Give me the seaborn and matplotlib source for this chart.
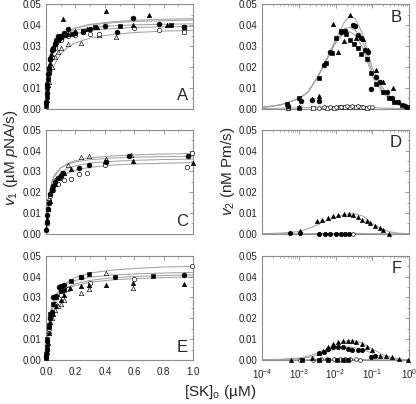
import numpy as np
import matplotlib
matplotlib.use('Agg')
import matplotlib.pyplot as plt
import seaborn as sns
from matplotlib.ticker import MultipleLocator, FormatStrFormatter, LogLocator

# ---------------------------------------------------------------- data
# left column: v1 vs [SK]o (linear), fitted curves on a common grid
lin_x = [0, 0.005, 0.01, 0.02, 0.04, 0.06, 0.1, 0.15, 0.2, 0.3, 0.45, 0.6, 0.8, 1.0]

A_curves = [
    [0, 0.0064, 0.0111, 0.0178, 0.0254, 0.0297, 0.0342, 0.0371, 0.0387, 0.0405, 0.0417, 0.0424, 0.0429, 0.0432],
    [0, 0.0073, 0.0124, 0.0193, 0.0268, 0.0307, 0.0348, 0.0373, 0.0387, 0.0402, 0.0412, 0.0418, 0.0422, 0.0425],
    [0, 0.0083, 0.0138, 0.0208, 0.0277, 0.0311, 0.0346, 0.0366, 0.0377, 0.0389, 0.0397, 0.0402, 0.0405, 0.0407],
    [0, 0.0068, 0.0116, 0.0180, 0.0249, 0.0286, 0.0324, 0.0347, 0.0360, 0.0374, 0.0384, 0.0389, 0.0393, 0.0395],
    [0, 0.0036, 0.0066, 0.0113, 0.0175, 0.0215, 0.0263, 0.0296, 0.0316, 0.0339, 0.0356, 0.0365, 0.0372, 0.0376],
]
C_curves = [
    [0, 0.0066, 0.0113, 0.0175, 0.0243, 0.0279, 0.0316, 0.0339, 0.0351, 0.0365, 0.0374, 0.0379, 0.0383, 0.0386],
    [0, 0.0076, 0.0127, 0.0190, 0.0253, 0.0285, 0.0317, 0.0335, 0.0345, 0.0356, 0.0364, 0.0368, 0.0371, 0.0372],
    [0, 0.0061, 0.0105, 0.0163, 0.0226, 0.0260, 0.0294, 0.0315, 0.0327, 0.0340, 0.0348, 0.0353, 0.0357, 0.0359],
    [0, 0.0050, 0.0088, 0.0141, 0.0201, 0.0235, 0.0271, 0.0293, 0.0306, 0.0320, 0.0330, 0.0335, 0.0339, 0.0342],
]
E_curves = [
    [0, 0.0058, 0.0103, 0.0169, 0.0248, 0.0294, 0.0344, 0.0377, 0.0396, 0.0417, 0.0431, 0.0439, 0.0446, 0.0449],
    [0, 0.0072, 0.0123, 0.0191, 0.0264, 0.0304, 0.0344, 0.0369, 0.0382, 0.0397, 0.0407, 0.0413, 0.0417, 0.0420],
    [0, 0.0060, 0.0105, 0.0168, 0.0240, 0.0280, 0.0323, 0.0350, 0.0365, 0.0382, 0.0394, 0.0400, 0.0405, 0.0408],
    [0, 0.0059, 0.0103, 0.0164, 0.0234, 0.0273, 0.0315, 0.0342, 0.0357, 0.0373, 0.0384, 0.0390, 0.0395, 0.0398],
]

# panel A points
A_fc_x = [0.002, 0.005, 0.01, 0.015, 0.02, 0.03, 0.04, 0.05, 0.06, 0.07, 0.08, 0.1, 0.12, 0.15, 0.2, 0.25, 0.3, 0.4, 0.48, 0.59, 0.77, 0.94]
A_fc_y = [0.0032, 0.0075, 0.012, 0.0165, 0.0195, 0.024, 0.028, 0.029, 0.031, 0.033, 0.035, 0.035, 0.0365, 0.038, 0.0365, 0.037, 0.038, 0.0395, 0.037, 0.0437, 0.0405, 0.039]
A_ft_x = [0.003, 0.008, 0.012, 0.018, 0.025, 0.035, 0.05, 0.07, 0.09, 0.118, 0.15, 0.2, 0.28, 0.35, 0.41, 0.59, 0.70, 0.82]
A_ft_y = [0.003, 0.0085, 0.0115, 0.0175, 0.022, 0.026, 0.029, 0.032, 0.034, 0.043, 0.036, 0.0375, 0.038, 0.039, 0.047, 0.040, 0.045, 0.040]
A_fs_x = [0.001, 0.004, 0.008, 0.012, 0.02, 0.03, 0.045, 0.06, 0.08, 0.1, 0.13, 0.18, 0.25, 0.33, 0.5, 0.85, 0.94]
A_fs_y = [0.0015, 0.0055, 0.010, 0.014, 0.019, 0.024, 0.0285, 0.031, 0.033, 0.0345, 0.0355, 0.036, 0.0375, 0.039, 0.0395, 0.040, 0.039]
A_oc_x = [0.01, 0.02, 0.04, 0.06, 0.1, 0.15, 0.2, 0.3, 0.36, 0.6, 0.77]
A_oc_y = [0.011, 0.017, 0.025, 0.029, 0.033, 0.035, 0.0355, 0.036, 0.036, 0.0386, 0.0377]
A_ot_x = [0.005, 0.01, 0.02, 0.04, 0.06, 0.08, 0.1, 0.15, 0.24, 0.36, 0.475]
A_ot_y = [0.004, 0.008, 0.013, 0.020, 0.025, 0.027, 0.029, 0.031, 0.0317, 0.0355, 0.0346]
A_os_x = [0.94]
A_os_y = [0.0368]

# panel C points
C_fc_x = [0.002, 0.005, 0.01, 0.015, 0.02, 0.03, 0.04, 0.05, 0.06, 0.08, 0.1, 0.114, 0.227, 0.29, 0.405, 0.566, 0.966]
C_fc_y = [0.002, 0.005, 0.009, 0.012, 0.015, 0.019, 0.021, 0.023, 0.025, 0.027, 0.028, 0.029, 0.0317, 0.033, 0.0347, 0.0376, 0.0373]
C_ft_x = [0.003, 0.008, 0.015, 0.025, 0.04, 0.06, 0.09, 0.12, 0.168, 0.4, 0.59, 1.0]
C_ft_y = [0.003, 0.007, 0.012, 0.016, 0.021, 0.024, 0.027, 0.029, 0.031, 0.035, 0.035, 0.0342]
C_ot_x = [0.02, 0.04, 0.06, 0.1, 0.15, 0.24, 0.29, 0.41, 0.577]
C_ot_y = [0.017, 0.023, 0.026, 0.029, 0.033, 0.037, 0.0372, 0.036, 0.038]
C_oc_x = [0.03, 0.05, 0.08, 0.12, 0.168, 0.227, 0.28, 0.4, 0.96, 0.99]
C_oc_y = [0.018, 0.021, 0.024, 0.026, 0.0265, 0.0289, 0.029, 0.033, 0.0322, 0.039]

# panel E points
E_fs_x = [0.001, 0.003, 0.006, 0.01, 0.02, 0.03, 0.05, 0.07, 0.1, 0.12, 0.17, 0.24, 0.295, 0.47, 0.73]
E_fs_y = [0.001, 0.003, 0.006, 0.010, 0.017, 0.022, 0.027, 0.030, 0.033, 0.0335, 0.038, 0.0397, 0.0411, 0.040, 0.0402]
E_fc_x = [0.002, 0.005, 0.01, 0.02, 0.03, 0.04, 0.05, 0.07, 0.09, 0.1, 0.12, 0.24, 0.94]
E_fc_y = [0.002, 0.005, 0.009, 0.016, 0.020, 0.023, 0.030, 0.0305, 0.035, 0.0357, 0.036, 0.0397, 0.0408]
E_ft_x = [0.002, 0.006, 0.012, 0.02, 0.03, 0.05, 0.07, 0.1, 0.12, 0.16, 0.24, 0.295, 0.41, 0.59, 0.94]
E_ft_y = [0.002, 0.004, 0.008, 0.013, 0.018, 0.022, 0.026, 0.029, 0.031, 0.0345, 0.0357, 0.0359, 0.0362, 0.0369, 0.0364]
E_ot_x = [0.01, 0.02, 0.04, 0.06, 0.08, 0.1, 0.12, 0.24, 0.295, 0.41, 0.59]
E_ot_y = [0.008, 0.014, 0.020, 0.024, 0.026, 0.027, 0.029, 0.032, 0.034, 0.0415, 0.0345]
E_oc_x = [0.02, 0.04, 0.06, 0.1, 0.15, 0.3, 0.6, 0.99]
E_oc_y = [0.015, 0.022, 0.027, 0.031, 0.034, 0.037, 0.039, 0.0452]

# right column: v2 vs [SK]o (log), fitted curves on a common grid
log_x = [1e-4, 3.2e-4, 1e-3, 1.8e-3, 3.2e-3, 5.6e-3, 1e-2, 1.8e-2, 2.5e-2, 3.5e-2, 5.6e-2, 1e-1, 1.8e-1, 3.2e-1, 5.6e-1, 1.0]

B_curves = [
    [0.0006, 0.0018, 0.0048, 0.008, 0.0150, 0.0235, 0.0330, 0.0420, 0.0445, 0.0430, 0.0355, 0.0195, 0.0105, 0.0055, 0.0022, 0.0008],
    [0.0006, 0.0018, 0.0048, 0.008, 0.0148, 0.0232, 0.0320, 0.0385, 0.0390, 0.0375, 0.0320, 0.0175, 0.0093, 0.0048, 0.0019, 0.0007],
    [0.0006, 0.0018, 0.0048, 0.008, 0.0147, 0.0230, 0.0315, 0.0368, 0.0368, 0.0350, 0.0290, 0.0155, 0.0080, 0.0040, 0.0016, 0.0006],
    [0.0001, 0.0002, 0.0004, 0.0005, 0.0007, 0.0009, 0.0011, 0.0012, 0.0012, 0.0011, 0.0009, 0.0006, 0.0003, 0.0002, 0.0001, 0.0],
]
D_curves = [
    [0.0001, 0.0004, 0.0011, 0.0025, 0.0044, 0.0063, 0.0080, 0.0093, 0.0097, 0.0096, 0.0085, 0.0050, 0.0024, 0.0009, 0.0003, 0.0001],
    [0, 0, 0.0001, 0.0001, 0.0002, 0.0002, 0.0003, 0.0003, 0.0003, 0.0003, 0.0002, 0.0001, 0.0001, 0, 0, 0],
]
F_curves = [
    [0.0001, 0.0003, 0.0009, 0.0018, 0.0033, 0.0052, 0.0072, 0.0089, 0.0093, 0.0091, 0.0080, 0.0053, 0.0028, 0.0012, 0.0004, 0.0001],
    [0.0001, 0.0002, 0.0006, 0.0012, 0.0023, 0.0038, 0.0053, 0.0062, 0.0062, 0.0058, 0.0050, 0.0032, 0.0016, 0.0007, 0.0002, 0.0001],
    [0, 0, 0.0001, 0.0001, 0.0002, 0.0002, 0.0003, 0.0003, 0.0003, 0.0003, 0.0002, 0.0001, 0.0001, 0, 0, 0],
]

# panel B points
B_fs_x = [4.8e-4, 1e-3, 3.5e-3, 5.4e-3, 8.1e-3, 0.01, 0.0145, 0.019, 0.025, 0.032, 0.04, 0.05, 0.071, 0.095, 0.126, 0.2, 0.28, 0.4, 0.63, 0.89]
B_fs_y = [0.0024, 0.0052, 0.0148, 0.022, 0.0266, 0.034, 0.0374, 0.036, 0.033, 0.031, 0.029, 0.026, 0.024, 0.017, 0.012, 0.008, 0.005, 0.003, 0.002, 0.0008]
B_fc_x = [5e-4, 1.17e-3, 2.3e-3, 3.5e-3, 5e-3, 7.1e-3, 0.0141, 0.0178, 0.030, 0.034, 0.042, 0.05, 0.063, 0.079, 0.095, 0.126, 0.162, 0.25, 0.355, 0.5, 0.79]
B_fc_y = [0.0015, 0.0035, 0.004, 0.0035, 0.021, 0.027, 0.037, 0.0375, 0.0403, 0.0395, 0.0355, 0.034, 0.028, 0.027, 0.0094, 0.015, 0.0129, 0.008, 0.005, 0.003, 0.0015]
B_ft_x = [1e-3, 2.3e-3, 3.5e-3, 8.7e-3, 0.012, 0.0174, 0.025, 0.035, 0.056, 0.079, 0.13, 0.2, 0.36]
B_ft_y = [0.001, 0.0045, 0.0062, 0.0408, 0.0271, 0.0326, 0.0448, 0.034, 0.0335, 0.028, 0.0187, 0.013, 0.0101]
B_oc_x = [5e-4, 1e-3, 3.5e-3, 5e-3, 7e-3, 0.01, 0.014, 0.02, 0.028, 0.04, 0.056, 0.08, 0.1]
B_oc_y = [0.0002, 0.0003, 0.0005, 0.0006, 0.0008, 0.0009, 0.001, 0.0011, 0.0012, 0.0011, 0.001, 0.0008, 0.0006]
B_os_x = [5e-4, 1e-3, 2.5e-3, 6e-3, 0.009, 0.013, 0.018, 0.025, 0.035, 0.05, 0.07]
B_os_y = [0.0001, 0.0002, 0.0003, 0.0004, 0.0005, 0.0006, 0.0007, 0.0008, 0.0008, 0.0007, 0.0005]

# panel D points
D_ft_x = [1.1e-3, 3.2e-3, 4.4e-3, 6.3e-3, 8.7e-3, 0.0117, 0.0174, 0.0229, 0.030, 0.0417, 0.0537, 0.0708, 0.089, 0.117, 0.158, 0.19, 0.29]
D_ft_y = [0.0015, 0.006, 0.0069, 0.0076, 0.0085, 0.0092, 0.0094, 0.0094, 0.0092, 0.0081, 0.0069, 0.0061, 0.0053, 0.004, 0.003, 0.0021, 0.0]
D_fc_x = [5.9e-4, 1.1e-3, 3.5e-3, 5.1e-3, 7.2e-3, 0.0102, 0.0138, 0.0186, 0.0229]
D_fc_y = [0.0002, 0.0002, 0.0001, 0.0001, 0.0001, 0.0001, 0.0001, 0.0001, 0.0001]
D_oc_x = [0.03]
D_oc_y = [0.0]

# panel F points
F_ft_x = [6.3e-4, 2.3e-3, 3.5e-3, 4.6e-3, 6.3e-3, 8.7e-3, 0.0117, 0.0162, 0.0224, 0.0288, 0.0372, 0.0537, 0.0708, 0.1, 0.162, 0.234, 0.339, 0.55, 0.95]
F_ft_y = [0.0, 0.0008, 0.0032, 0.0043, 0.0064, 0.0075, 0.0088, 0.0093, 0.0093, 0.0093, 0.0087, 0.0075, 0.0064, 0.0048, 0.0019, 0.0019, 0.0016, 0.0005, 0.0]
F_fc_x = [3.5e-3, 4.8e-3, 6.3e-3, 8.7e-3, 0.0117, 0.0162, 0.0224, 0.0288, 0.0417, 0.0537, 0.091, 0.117]
F_fc_y = [0.0032, 0.004, 0.0053, 0.006, 0.0064, 0.0064, 0.0053, 0.0048, 0.0048, 0.0048, 0.0016, 0.0019]
F_fs_x = [1.2e-3, 3.5e-3, 6.3e-3, 0.011, 0.016, 0.022]
F_fs_y = [0.0001, 0.0001, 0.0001, 0.0001, 0.0001, 0.0001]
F_oc_x = [1.1e-3, 2.4e-3, 4e-3, 6e-3, 9e-3, 0.013, 0.018, 0.025, 0.035, 0.045]
F_oc_y = [0.0002, 0.0002, 0.0003, 0.0003, 0.0003, 0.0004, 0.0004, 0.0003, 0.0003, 0.0002]

# ---------------------------------------------------------------- style
sns.set_style('white')
plt.rcParams['font.family'] = ['Liberation Sans', 'DejaVu Sans']
plt.rcParams['mathtext.fontset'] = 'custom'
plt.rcParams['mathtext.rm'] = 'Liberation Sans'
plt.rcParams['mathtext.it'] = 'Liberation Sans:italic'

GREY_LINE = '#a3a3a3'
SPINE = '#8c8c8c'

# marker kinds: (marker, facecolor)
MK = {'fc': ('o', 'black'), 'ft': ('^', 'black'), 'fs': ('s', 'black'),
      'oc': ('o', 'white'), 'ot': ('^', 'white'), 'os': ('s', 'white')}


def points(ax, x, y, kind, s=10):
    m, fc = MK[kind]
    sns.scatterplot(x=x, y=y, ax=ax, marker=m, s=s, color=fc, edgecolor='black',
                    linewidth=0.45, clip_on=False, zorder=3, legend=False)


def curves(ax, x, ys):
    for yy in ys:
        sns.lineplot(x=x, y=yy, ax=ax, color=GREY_LINE, lw=0.75, zorder=2)


def style_axes(ax, logx, show_x):
    for sp in ax.spines.values():
        sp.set_color(SPINE)
        sp.set_linewidth(0.8)
    ax.set_ylim(0, 0.05)
    ax.yaxis.set_major_locator(MultipleLocator(0.01))
    ax.yaxis.set_minor_locator(MultipleLocator(0.005))
    ax.yaxis.set_major_formatter(FormatStrFormatter('%.2f'))
    if logx:
        ax.set_xscale('log')
        ax.set_xlim(1e-4, 1)
        ax.xaxis.set_major_locator(LogLocator(base=10, numticks=10))
        ax.xaxis.set_minor_locator(LogLocator(base=10, subs=np.arange(2, 10), numticks=10))
    else:
        ax.set_xlim(0, 1)
        ax.xaxis.set_major_locator(MultipleLocator(0.2))
        ax.xaxis.set_minor_locator(MultipleLocator(0.1))
        ax.xaxis.set_major_formatter(FormatStrFormatter('%.1f'))
    ax.tick_params(which='both', direction='in', top=True, right=True, color=SPINE,
                   labelsize=7, labelcolor='#222222')
    ax.tick_params(axis='y', pad=3)
    ax.tick_params(axis='x', pad=5)
    ax.tick_params(which='major', length=3, width=0.6)
    ax.tick_params(which='minor', length=1.6, width=0.5)
    if not show_x:
        ax.set_xticklabels([])
    ax.set_xlabel('')
    ax.set_ylabel('')


fig = plt.figure(figsize=(4.16, 4.04), dpi=100)
L, R, W, H = 0.1106, 0.6298, 0.3534, 0.258
bottoms = [0.731, 0.421, 0.109]

axA = fig.add_axes([L, bottoms[0], W, H])
axC = fig.add_axes([L, bottoms[1], W, H])
axE = fig.add_axes([L, bottoms[2], W, H])
axB = fig.add_axes([R, bottoms[0], W, H])
axD = fig.add_axes([R, bottoms[1], W, H])
axF = fig.add_axes([R, bottoms[2], W, H])

# A
curves(axA, lin_x, A_curves)
points(axA, A_ot_x, A_ot_y, 'ot')
points(axA, A_oc_x, A_oc_y, 'oc')
points(axA, A_os_x, A_os_y, 'os')
points(axA, A_fs_x, A_fs_y, 'fs')
points(axA, A_fc_x, A_fc_y, 'fc', s=12)
points(axA, A_ft_x, A_ft_y, 'ft')
# C
curves(axC, lin_x, C_curves)
points(axC, C_ot_x, C_ot_y, 'ot')
points(axC, C_oc_x, C_oc_y, 'oc')
points(axC, C_ft_x, C_ft_y, 'ft')
points(axC, C_fc_x, C_fc_y, 'fc', s=12)
# E
curves(axE, lin_x, E_curves)
points(axE, E_ot_x, E_ot_y, 'ot')
points(axE, E_oc_x, E_oc_y, 'oc')
points(axE, E_ft_x, E_ft_y, 'ft')
points(axE, E_fc_x, E_fc_y, 'fc', s=12)
points(axE, E_fs_x, E_fs_y, 'fs')
# B
curves(axB, log_x, B_curves)
points(axB, B_os_x, B_os_y, 'os', s=7)
points(axB, B_oc_x, B_oc_y, 'oc', s=7)
points(axB, B_fs_x, B_fs_y, 'fs')
points(axB, B_fc_x, B_fc_y, 'fc', s=12)
points(axB, B_ft_x, B_ft_y, 'ft')
# D
curves(axD, log_x, D_curves)
points(axD, D_oc_x, D_oc_y, 'oc', s=7)
points(axD, D_fc_x, D_fc_y, 'fc', s=10)
points(axD, D_ft_x, D_ft_y, 'ft', s=9)
# F
curves(axF, log_x, F_curves)
points(axF, F_oc_x, F_oc_y, 'oc', s=7)
points(axF, F_fs_x, F_fs_y, 'fs', s=8)
points(axF, F_fc_x, F_fc_y, 'fc', s=10)
points(axF, F_ft_x, F_ft_y, 'ft', s=9)

for ax in (axA, axC):
    style_axes(ax, False, False)
style_axes(axE, False, True)
for ax in (axB, axD):
    style_axes(ax, True, False)
style_axes(axF, True, True)

# panel letters
for ax, t in ((axA, 'A'), (axC, 'C'), (axE, 'E')):
    ax.text(0.965, 0.05, t, transform=ax.transAxes, ha='right', va='bottom', fontsize=12)
for ax, t in ((axB, 'B'), (axD, 'D'), (axF, 'F')):
    ax.text(0.95, 0.95, t, transform=ax.transAxes, ha='right', va='top', fontsize=12)

fig.text(0.026, 0.611, r'$v_{\mathit{1}}$ (µM $p$NA/s)', rotation=90, ha='center', va='center', fontsize=11)
fig.text(0.548, 0.577, r'$v_2$ (nM Pm/s)', rotation=90, ha='center', va='center', fontsize=11)
fig.text(0.529, 0.030, r'[SK]$_\mathrm{o}$ (µM)', ha='center', va='center', fontsize=11)

fig.savefig('out.png', dpi=100)
